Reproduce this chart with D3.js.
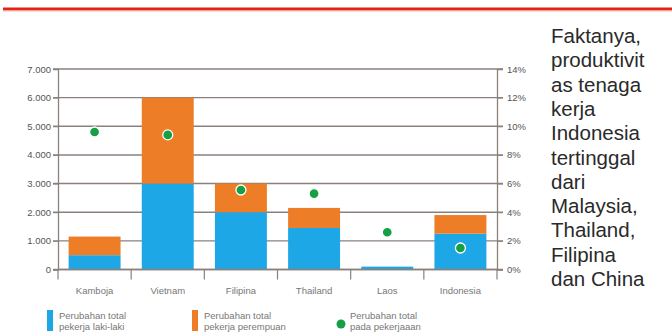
<!DOCTYPE html>
<html><head><meta charset="utf-8">
<script src="https://cdn.jsdelivr.net/npm/d3@7"></script>
<style>body{margin:0;background:#fff}svg{display:block}</style>
</head><body>
<svg id="c" width="672" height="336"></svg>
<script>
const categories = ["Kamboja","Vietnam","Filipina","Thailand","Laos","Indonesia"];
const maleChange = [500, 3000, 2000, 1450, 100, 1250];
const femaleChange = [650, 3000, 1000, 700, 0, 650];
const totalJobChange = [9.6, 9.4, 5.55, 5.3, 2.6, 1.5];
const leftTicks = [0,1000,2000,3000,4000,5000,6000,7000];
const rightTicks = [0,2,4,6,8,10,12,14];
const legendItems = [
  {lines:["Perubahan total","pekerja laki-laki"], color:"#1ea7e6", type:"rect"},
  {lines:["Perubahan total","pekerja perempuan"], color:"#ee7d27", type:"rect"},
  {lines:["Perubahan total","pada pekerjaaan"], color:"#16a046", type:"dot"}
];
const sideText = ["Faktanya,","produktivit","as tenaga","kerja","Indonesia","tertinggal","dari","Malaysia,","Thailand,","Filipina","dan China"];

const svg = d3.select("#c");
const font = "'Liberation Sans', Arial, sans-serif";
const L = 58, R = 497, T = 69, B = 269.5;
const x = d3.scaleBand().domain(categories).range([L, R]).paddingInner(0.29).paddingOuter(0.145);
const yL = d3.scaleLinear().domain([0,7000]).range([B, T]);
const yR = d3.scaleLinear().domain([0,14]).range([B, T]);
const gridColor = "#8a817c";

// red top rule
svg.append("line").attr("x1",3).attr("x2",672).attr("y1",9).attr("y2",9)
  .attr("stroke","#e2231a").attr("stroke-width",3);
svg.append("line").attr("x1",3).attr("x2",672).attr("y1",11).attr("y2",11)
  .attr("stroke","#f3b89a").attr("stroke-width",1);

// gridlines
svg.append("g").selectAll("line").data(leftTicks).join("line")
  .attr("x1", L-5).attr("x2", R+6)
  .attr("y1", d=>yL(d)).attr("y2", d=>yL(d))
  .attr("stroke", gridColor).attr("stroke-width", 1.4);

// left axis
const gl = svg.append("g").attr("transform",`translate(${L},0)`)
  .call(d3.axisLeft(yL).tickValues(leftTicks).tickSize(5).tickPadding(2)
    .tickFormat(d => d3.format(",")(d).replace(/,/g,".")));
gl.select(".domain").attr("stroke", gridColor).attr("stroke-width",1.3);
gl.selectAll(".tick line").attr("stroke", gridColor);
gl.selectAll("text").attr("font-family", font).attr("font-size", 9.5).attr("fill","#555");

// right axis
const gr = svg.append("g").attr("transform",`translate(${R},0)`)
  .call(d3.axisRight(yR).tickValues(rightTicks).tickSize(6).tickPadding(4)
    .tickFormat(d => d + "%"));
gr.select(".domain").attr("stroke", gridColor).attr("stroke-width",1.3);
gr.selectAll(".tick line").attr("stroke", gridColor);
gr.selectAll("text").attr("font-family", font).attr("font-size", 9.5).attr("fill","#555");

// bars
const bars = svg.append("g");
bars.selectAll("rect.m").data(categories).join("rect").attr("class","m")
  .attr("x", d=>x(d)).attr("width", x.bandwidth())
  .attr("y", (d,i)=>yL(maleChange[i])).attr("height",(d,i)=>yL(0)-yL(maleChange[i]))
  .attr("fill","#1ea7e6");
bars.selectAll("rect.f").data(categories).join("rect").attr("class","f")
  .attr("x", d=>x(d)).attr("width", x.bandwidth())
  .attr("y", (d,i)=>yL(maleChange[i]+femaleChange[i]))
  .attr("height",(d,i)=>yL(maleChange[i])-yL(maleChange[i]+femaleChange[i]))
  .attr("fill","#ee7d27");

// bottom axis line and category ticks
svg.append("line").attr("x1",L).attr("x2",R).attr("y1",B).attr("y2",B)
  .attr("stroke", gridColor).attr("stroke-width",1.3);
const bounds = d3.range(categories.length+1).map(i => L + i*(R-L)/categories.length);
svg.append("g").selectAll("line").data(bounds).join("line")
  .attr("x1",d=>d).attr("x2",d=>d).attr("y1",B).attr("y2",B+10)
  .attr("stroke", gridColor).attr("stroke-width",1.2);
svg.append("g").selectAll("text").data(categories).join("text")
  .attr("x", d=>x(d)+x.bandwidth()/2).attr("y", 294)
  .attr("text-anchor","middle").attr("font-family",font).attr("font-size",9.5)
  .attr("fill","#777").text(d=>d);

// dots
svg.append("g").selectAll("circle").data(categories).join("circle")
  .attr("cx", d=>x(d)+x.bandwidth()/2).attr("cy",(d,i)=>yR(totalJobChange[i]))
  .attr("r",5).attr("fill","#16a046").attr("stroke","#fff").attr("stroke-width",1.3);

// legend
const lx = [47, 192, 336];
legendItems.forEach((it,i)=>{
  const g = svg.append("g");
  if (it.type==="rect") g.append("rect").attr("x",lx[i]).attr("y",310).attr("width",6).attr("height",21).attr("fill",it.color);
  else g.append("circle").attr("cx",lx[i]+5).attr("cy",324).attr("r",4.5).attr("fill",it.color);
  g.append("text").attr("font-family",font).attr("font-size",9.5).attr("fill","#777")
    .selectAll("tspan").data(it.lines).join("tspan")
    .attr("x", lx[i] + (it.type==="rect"?12:14)).attr("y",(d,j)=>318.5+j*11).text(d=>d);
});

// side text
svg.append("text").attr("font-family",font).attr("font-size",20.5).attr("fill","#2a2a2a")
  .selectAll("tspan").data(sideText).join("tspan")
  .attr("x",551).attr("y",(d,i)=>43+i*24.3).text(d=>d);
</script>
</body></html>
